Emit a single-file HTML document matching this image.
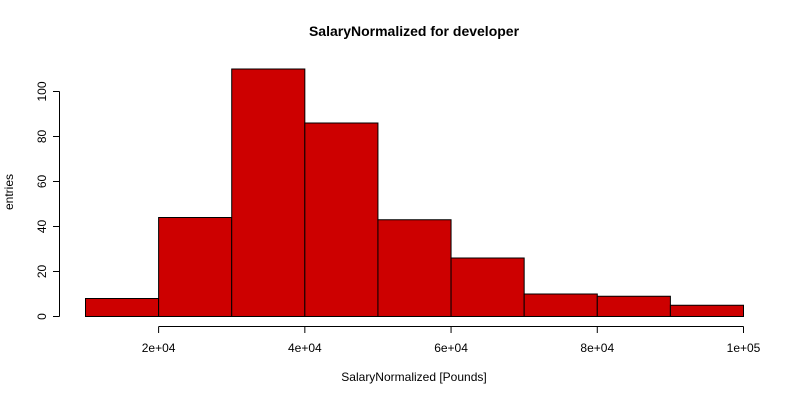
<!DOCTYPE html>
<html><head><meta charset="utf-8"><style>body{margin:0;background:#fff}svg{display:block;font-family:"Liberation Sans",sans-serif}</style></head>
<body>
<svg id="c" width="800" height="400">
<text x="414" y="36" text-anchor="middle" font-weight="bold" font-size="14">SalaryNormalized for developer</text>
<text x="414" y="381" text-anchor="middle" font-size="12">SalaryNormalized [Pounds]</text>
<text transform="translate(13,192) rotate(-90)" text-anchor="middle" font-size="12">entries</text>
<g id="bars"></g><g id="axes"></g>
</svg>
<script>
const binEdges=[10000,20000,30000,40000,50000,60000,70000,80000,90000,100000];
const counts=[8,44,110,86,43,26,10,9,5];
const xTicks=[20000,40000,60000,80000,100000];
const xTickLabels=["2e+04","4e+04","6e+04","8e+04","1e+05"];
const yTicks=[0,20,40,60,80,100];
const NS="http://www.w3.org/2000/svg";
const xs=v=>85.5+(v-10000)*(743-85)/90000;
const ys=v=>316.5-v*2.25;
function mk(t,a,p){const e=document.createElementNS(NS,t);for(const k in a)e.setAttribute(k,a[k]);p.appendChild(e);return e;}
const bars=document.getElementById('bars'),axes=document.getElementById('axes');
counts.forEach((c,i)=>{const x0=xs(binEdges[i]),x1=xs(binEdges[i+1]);
const r=mk('rect',{x:x0,y:ys(c),width:x1-x0,height:ys(0)-ys(c),fill:'#cd0000',stroke:'#000','stroke-width':1},bars);

});
const xl=mk('line',{x1:xs(xTicks[0]),x2:xs(xTicks[xTicks.length-1]),y1:326.5,y2:326.5,stroke:'#000'},axes);


xTicks.forEach((t,i)=>{mk('line',{x1:xs(t),x2:xs(t),y1:326.5,y2:333,stroke:'#000'},axes);
const tx=mk('text',{x:xs(t),y:352,'text-anchor':'middle','font-size':12},axes);tx.textContent=xTickLabels[i];

});
const yl=mk('line',{x1:59.5,x2:59.5,y1:ys(0),y2:ys(100),stroke:'#000'},axes);


yTicks.forEach(t=>{mk('line',{x1:53,x2:59.5,y1:ys(t),y2:ys(t),stroke:'#000'},axes);
const tx=mk('text',{transform:`translate(46,${ys(t)}) rotate(-90)`,'text-anchor':'middle','font-size':12},axes);tx.textContent=t;

});
</script>
</body></html>
